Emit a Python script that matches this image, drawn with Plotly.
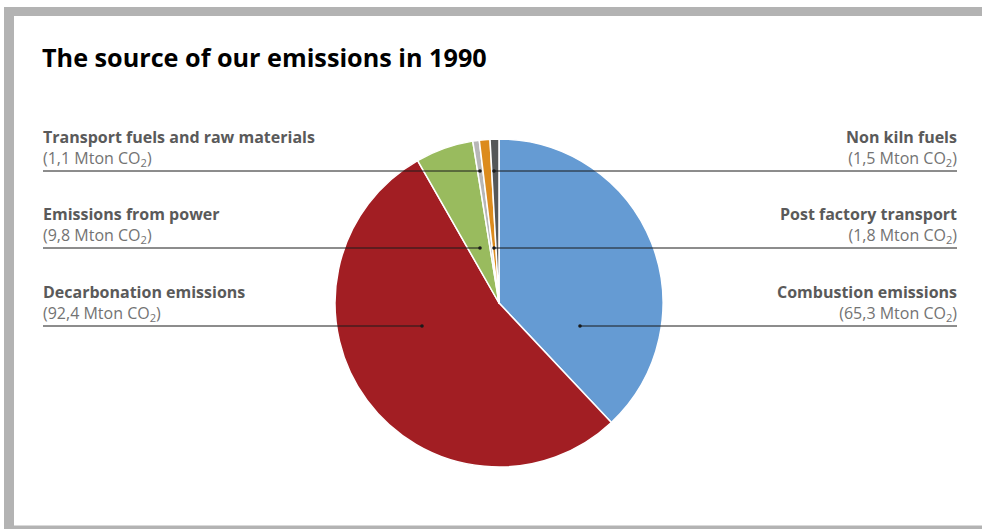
import plotly.graph_objects as go

W, H = 982, 529

# Data (clockwise from 12 o'clock)
categories = ["Combustion emissions", "Decarbonation emissions", "Emissions from power",
              "Transport fuels and raw materials", "Post factory transport", "Non kiln fuels"]
values = [65.3, 92.4, 9.8, 1.1, 1.8, 1.5]
value_labels = ["65,3", "92,4", "9,8", "1,1", "1,8", "1,5"]
colors = ["#659bd3", "#a21e23", "#99bb5e", "#b7b7b7", "#dc8b1d", "#555758"]

# Label layout (pixel positions): side, leader line y, dot x
label_side = ["right", "left", "left", "left", "right", "right"]
label_line_y = [326, 326, 248, 171, 248, 171]
label_dot_x = [580, 422, 480, 480, 494, 494]

LEFT_X, RIGHT_X = 43, 957
CX, CY, R = 499, 303, 164


def px(x):
    return x / W


def py(y):
    return 1 - y / H


fig = go.Figure()
fig.add_trace(go.Pie(
    labels=categories, values=values, sort=False, direction="clockwise", rotation=0,
    marker=dict(colors=colors, line=dict(color="white", width=1.5)),
    textinfo="none", hoverinfo="label+value", showlegend=False,
    domain=dict(x=[px(CX - R), px(CX + R)], y=[py(CY + R), py(CY - R)]),
))

shapes = []
# frame
frame_col = "#b3b3b3"
shapes.append(dict(type="rect", xref="paper", yref="paper", x0=px(4), x1=px(982), y0=py(7), y1=py(16),
                   fillcolor=frame_col, line_width=0, layer="below"))
shapes.append(dict(type="rect", xref="paper", yref="paper", x0=px(4), x1=px(14), y0=py(7), y1=py(529),
                   fillcolor=frame_col, line_width=0, layer="below"))
shapes.append(dict(type="rect", xref="paper", yref="paper", x0=px(4), x1=px(982), y0=py(525.5), y1=py(529),
                   fillcolor=frame_col, line_width=0, layer="below"))

annotations = []
for cat, vl, side, ly, dx in zip(categories, value_labels, label_side, label_line_y, label_dot_x):
    if side == "left":
        x0, x1 = LEFT_X, dx
        tx, anchor = LEFT_X - 2, "left"
    else:
        x0, x1 = dx, RIGHT_X
        tx, anchor = RIGHT_X + 2, "right"
    shapes.append(dict(type="line", xref="paper", yref="paper", x0=px(x0), x1=px(x1), y0=py(ly), y1=py(ly),
                       line=dict(color="#1a1a1a", width=1)))
    shapes.append(dict(type="circle", xref="paper", yref="paper", x0=px(dx - 1.8), x1=px(dx + 1.8),
                       y0=py(ly + 1.8), y1=py(ly - 1.8), fillcolor="#1a1a1a", line_width=0))
    annotations.append(dict(
        xref="paper", yref="paper", x=px(tx), y=py(ly + 1), xanchor=anchor, yanchor="bottom",
        align=anchor, showarrow=False,
        text=f"<b>{cat}</b><br><span style='color:#737373'>({vl} Mton CO<sub>2</sub>)</span>",
        font=dict(family="Open Sans", size=16, color="#5a5a5a"),
    ))

annotations.append(dict(
    xref="paper", yref="paper", x=px(40), y=py(38), xanchor="left", yanchor="top", showarrow=False,
    text="<b>The source of our emissions in 1990</b>",
    font=dict(family="Open Sans", size=25.2, color="#000000"),
))

fig.update_layout(
    width=W, height=H, margin=dict(l=0, r=0, t=0, b=0),
    paper_bgcolor="white", plot_bgcolor="white",
    shapes=shapes, annotations=annotations,
)

fig.write_html("out.html", config={"displayModeBar": False},
               post_script="document.body.style.margin='0';document.body.style.overflow='hidden';")
